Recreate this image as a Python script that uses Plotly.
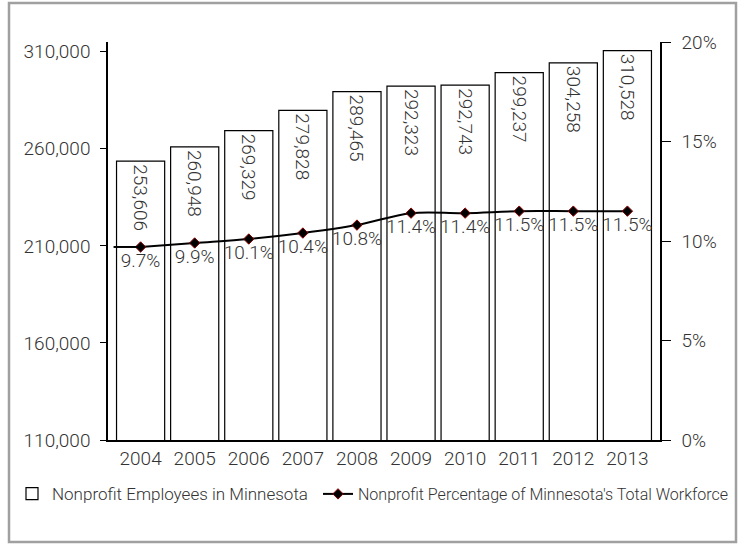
import plotly.graph_objects as go

years = ["2004", "2005", "2006", "2007", "2008", "2009", "2010", "2011", "2012", "2013"]
employees = [253606, 260948, 269329, 279828, 289465, 292323, 292743, 299237, 304258, 310528]
pct = [9.7, 9.9, 10.1, 10.4, 10.8, 11.4, 11.4, 11.5, 11.5, 11.5]

FONT = "Roboto"
TXT = "#333333"

fig = go.Figure()
fig.add_trace(go.Bar(
    x=years, y=employees,
    name="Nonprofit Employees in Minnesota",
    marker=dict(color="white", line=dict(color="black", width=1.2)),
    text=[f"{v:,}" for v in employees],
    textposition="inside", insidetextanchor="end", textangle=90,
    textfont=dict(family=FONT, size=19, color=TXT, weight=300),
    legend="legend",
))
fig.add_trace(go.Scatter(
    x=years, y=[p / 100 for p in pct], yaxis="y2",
    name="Nonprofit Percentage of Minnesota's Total Workforce",
    mode="lines+markers+text",
    line=dict(color="black", width=2, shape="spline"),
    marker=dict(symbol="diamond", size=8, color="black", line=dict(color="#8b0000", width=1)),
    text=[f"{p}%" for p in pct], textposition="bottom center",
    textfont=dict(family=FONT, size=19, color=TXT, weight=300),
    legend="legend2",
))

L, R, T, B = 108, 78, 42, 104
W, H = 738, 544
pw, ph = W - L - R, H - T - B

def px(x):
    return (x - L) / pw

def py(y):
    return (H - B - y) / ph

fig.update_layout(
    width=W, height=H,
    margin=dict(l=L, r=R, t=T, b=B, pad=0, autoexpand=False),
    paper_bgcolor="white", plot_bgcolor="white",
    font=dict(family=FONT, size=19, color=TXT, weight=300),
    bargap=0.11,
    showlegend=True,
    legend=dict(orientation="h", x=px(12), xanchor="left", y=py(476), yanchor="top",
                font=dict(family=FONT, size=17, color=TXT, weight=300),
                itemwidth=30, bgcolor="rgba(0,0,0,0)"),
    legend2=dict(orientation="h", x=px(318), xanchor="left", y=py(477), yanchor="top",
                 font=dict(family=FONT, size=16, color=TXT, weight=300),
                 itemwidth=30, bgcolor="rgba(0,0,0,0)"),
    xaxis=dict(showline=True, linecolor="black", linewidth=1.5, ticks="",
               tickfont=dict(size=19), showgrid=False),
    yaxis=dict(range=[110000, 315000], tick0=110000, dtick=50000, tickformat=",",
               showline=True, linecolor="black", linewidth=1.5,
               ticks="outside", ticklen=6, tickcolor="black", showgrid=False,
               zeroline=False, tickfont=dict(size=19), ticklabelstandoff=6),
    yaxis2=dict(range=[0, 0.2], dtick=0.05, tickformat=".0%", overlaying="y", side="right",
                showline=True, linecolor="black", linewidth=1.5,
                ticks="outside", ticklen=9, tickcolor="black", showgrid=False,
                zeroline=False, tickfont=dict(size=19), ticklabelstandoff=7),
    shapes=[
        dict(type="rect", xref="paper", yref="paper",
             x0=px(9), x1=px(736), y0=py(542), y1=py(3),
             line=dict(color="#a0a0a0", width=2.5), fillcolor="rgba(0,0,0,0)", layer="below"),
        dict(type="line", xref="x", yref="y2", x0=-0.5, x1=0,
             y0=pct[0] / 100, y1=pct[0] / 100, line=dict(color="black", width=2)),
    ],
)
fig.write_html("out.html", config={"displayModeBar": False},
               post_script="document.body.style.margin='0px';")
